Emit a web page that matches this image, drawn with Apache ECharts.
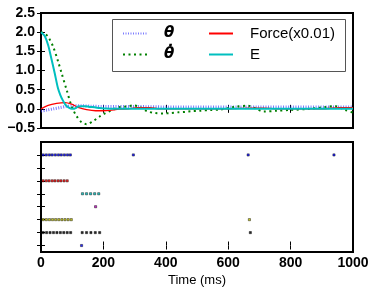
<!DOCTYPE html>
<html><head><meta charset="utf-8">
<script src="https://cdn.jsdelivr.net/npm/echarts@6/dist/echarts.min.js"></script>
<style>html,body{margin:0;padding:0;background:#fff}#c{width:374px;height:291px}</style>
</head><body><div id="c"></div>
<script>
// ---- data ----
const thetaT = [0,20,40,60,80,100,130,160,200,300,400,500,600,700,800,900,1000];
const thetaV = [-0.06,-0.03,0.0,0.03,0.06,0.08,0.08,0.07,0.06,0.06,0.05,0.05,0.05,0.05,0.05,0.05,0.05];
const thetaDotT = [0,12,23,39,55,66,82,98,114,130,146,167,188,205,226,253,275,296,317,339,365,392,414,441,462,484,510,542,574,600,627,665,690,713,756,798,862,916,943,975,1000];
const thetaDotV = [2.0,1.96,1.88,1.62,1.23,0.93,0.5,0.07,-0.19,-0.35,-0.40,-0.32,-0.2,-0.12,-0.04,0.05,0.06,0.09,0.05,-0.06,-0.11,-0.12,-0.11,-0.09,-0.08,-0.06,-0.05,-0.03,-0.02,0.02,0.06,0.08,0.0,-0.07,-0.05,-0.03,0.0,0.05,0.07,-0.03,-0.1];
const forceT = [0,23,50,77,98,119,146,175,200,221,250,280,307,350,380,450,600,670,713,750,900,955,1000];
const forceV = [0,0.09,0.14,0.16,0.12,0.04,-0.02,-0.05,-0.05,-0.04,-0.01,0.0,0.03,0.03,0.0,0,0,0.02,0.02,0,0,0.03,0.03];
const eT = [0,12,23,33,44,54,62,70,78,87,95,103,111,119,130,141,156,172,188,204,230,300,400,500,600,700,800,900,1000];
const eV = [2.0,1.9,1.66,1.32,0.93,0.55,0.36,0.22,0.11,0.04,0.01,0.0,0.02,0.06,0.07,0.07,0.05,0.04,0.02,0.01,0.0,0,0,0,0,0,0,0,0];

const rasterRows = [7,5,4,3,2,1,0];
const rasterColors = ['#0000ff','#ff0000','#00bfbf','#bf00bf','#bfbf00','#000000','#0000ff'];
const rasterTimes = [
  [7,17,27,36,46,56,65,75,85,94,296,664,939],
  [7,17,26,36,45,55,64,74,84],
  [133,146,159,172,185],
  [175],
  [7,17,27,37,47,57,67,77,87,97,668],
  [7,18,29,40,51,62,73,84,95,132,146,160,174,188,671],
  [130]
];
const rowTicks = [0,1,2,3,4,5,6,7];

const zip = (a,b) => a.map((v,i)=>[v,b[i]]);
const FONT = 'Liberation Sans';
const tick = {show:true, inside:true, length:4, lineStyle:{color:'#000', width:1}};
const noLine = {show:false};

const chart = echarts.init(document.getElementById('c'), null, {renderer:'canvas'});
const rasterSeries = rasterRows.map((r,i)=>({
  type:'scatter', xAxisIndex:2, yAxisIndex:2, symbol:'rect', symbolSize:2.2,
  itemStyle:{color:rasterColors[i], borderColor:'#000', borderWidth:0.5, opacity:0.85},
  data: rasterTimes[i].map(t=>[t,r]), silent:true
}));
chart.setOption({
  animation:false,
  grid:[
    {left:41, top:13, width:312, height:115, show:true, borderColor:'#000', borderWidth:2, backgroundColor:'#fff'},
    {left:41, top:142, width:312, height:110, show:true, borderColor:'#000', borderWidth:2, backgroundColor:'#fff'}
  ],
  xAxis:[
    {type:'value', gridIndex:0, min:0, max:1000, interval:200, axisLine:noLine, axisTick:tick, axisLabel:{show:false}, splitLine:{show:false}},
    {type:'value', gridIndex:0, position:'top', min:0, max:1000, interval:200, axisLine:noLine, axisTick:tick, axisLabel:{show:false}, splitLine:{show:false}},
    {type:'value', gridIndex:1, min:0, max:1000, interval:200, axisLine:noLine, axisTick:tick,
      axisLabel:{show:true, fontFamily:FONT, fontWeight:'bold', fontSize:14, color:'#000', margin:4, formatter:v=>String(v)},
      splitLine:{show:false}, name:'Time (ms)', nameLocation:'middle', nameGap:22,
      nameTextStyle:{fontFamily:FONT, fontSize:13, color:'#000'}},
    {type:'value', gridIndex:1, position:'top', min:0, max:1000, interval:200, axisLine:noLine, axisTick:tick, axisLabel:{show:false}, splitLine:{show:false}}
  ],
  yAxis:[
    {type:'value', gridIndex:0, min:-0.5, max:2.5, interval:0.5, axisLine:noLine, axisTick:tick,
      axisLabel:{show:true, fontFamily:FONT, fontWeight:'bold', fontSize:14, color:'#000', margin:6,
        formatter:v=>v.toFixed(1).replace('-','\u2212')}, splitLine:{show:false}},
    {type:'value', gridIndex:0, position:'right', min:-0.5, max:2.5, interval:0.5, axisLine:noLine, axisTick:tick, axisLabel:{show:false}, splitLine:{show:false}},
    {type:'value', gridIndex:1, min:-0.5, max:8, axisLine:noLine,
      axisTick:Object.assign({customValues:rowTicks}, tick), axisLabel:{show:false}, splitLine:{show:false}},
    {type:'value', gridIndex:1, position:'right', min:-0.5, max:8, axisLine:noLine,
      axisTick:Object.assign({customValues:rowTicks}, tick), axisLabel:{show:false}, splitLine:{show:false}}
  ],
  legend:[
    {left:122, top:26, orient:'vertical', padding:0, itemWidth:24, itemHeight:14, itemGap:6,
      itemStyle:{opacity:0, borderWidth:0},
      data:[{name:'θ'},{name:'θ\u0307'}],
      textStyle:{fontFamily:'DejaVu Sans', fontStyle:'italic', fontWeight:'bold', fontSize:15, color:'#000', lineHeight:15, padding:[0,0,0,12]}},
    {left:208, top:26, orient:'vertical', padding:0, itemWidth:24, itemHeight:14, itemGap:6,
      itemStyle:{opacity:0, borderWidth:0},
      data:[{name:'Force(x0.01)'},{name:'E'}],
      textStyle:{fontFamily:FONT, fontSize:15, color:'#000', lineHeight:15, padding:[0,0,0,12]}}
  ],
  graphic:[{type:'rect', shape:{x:112.5, y:19.5, width:233, height:52}, style:{fill:'#fff', stroke:'#555', lineWidth:1}, z:1}],
  series:[
    {name:'θ', type:'line', xAxisIndex:0, yAxisIndex:0, symbol:'none', smooth:0.3, data:zip(thetaT,thetaV),
      lineStyle:{color:'#3333ff', width:3, type:[1,1.5], opacity:0.65}, itemStyle:{color:'#6666ff'}},
    {name:'θ\u0307', type:'line', xAxisIndex:0, yAxisIndex:0, symbol:'none', smooth:0.3, data:zip(thetaDotT,thetaDotV),
      lineStyle:{color:'#008000', width:2, type:[2,3.5]}, itemStyle:{color:'#008000'}},
    {name:'Force(x0.01)', type:'line', xAxisIndex:0, yAxisIndex:0, symbol:'none', smooth:0.3, data:zip(forceT,forceV),
      lineStyle:{color:'#ff0000', width:1.3}, itemStyle:{color:'#ff0000'}},
    {name:'E', type:'line', xAxisIndex:0, yAxisIndex:0, symbol:'none', smooth:0.3, data:zip(eT,eV),
      lineStyle:{color:'#00bfbf', width:2}, itemStyle:{color:'#00bfbf'}}
  ].concat(rasterSeries)
});
</script></body></html>
